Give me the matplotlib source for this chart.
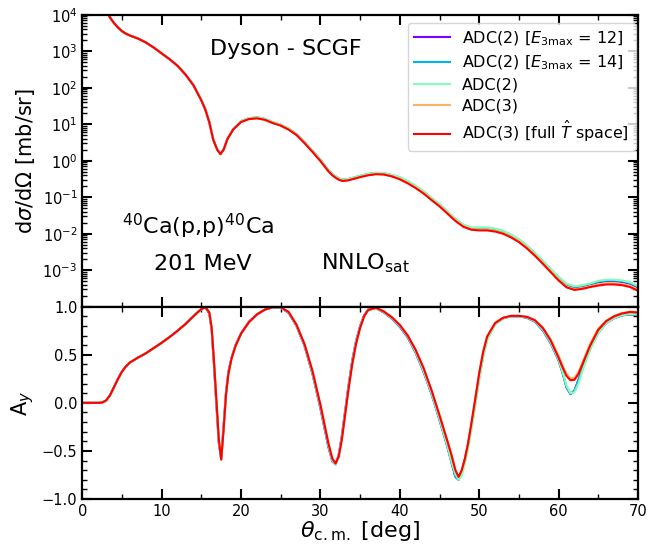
import matplotlib
matplotlib.use("Agg")
import matplotlib.pyplot as plt
import numpy as np

# ---- cross section data, log10(dsigma/dOmega) [mb/sr] ----
theta_xs = [2.5, 3, 3.5, 4, 4.5, 5, 5.5, 6, 7, 8, 9, 10, 11, 12, 13, 14, 15, 15.5, 16, 16.5,
            17, 17.4, 17.8, 18.3, 19, 20, 21, 22, 23, 24, 25, 26, 27, 28, 29, 30, 31, 31.5, 32, 32.4, 32.8, 33.5,
            34, 35, 36, 37, 38, 39, 40, 41, 42, 43, 44, 45, 46, 47, 48, 49, 50, 51, 52, 53,
            54, 55, 56, 57, 58, 59, 60, 61, 62, 63, 64, 65, 66, 67, 68, 69, 70]

xs_adc2_e12 = [4.5, 4.12, 3.92, 3.77, 3.65, 3.55, 3.48, 3.43, 3.35, 3.24, 3.10, 2.94, 2.78, 2.60, 2.36, 2.07, 1.66, 1.41, 1.06, 0.58,
               0.31, 0.19, 0.31, 0.61, 0.86, 1.08, 1.16, 1.18, 1.14, 1.05, 0.98, 0.87, 0.72, 0.50, 0.27, 0.02, -0.26, -0.37, -0.45, -0.50, -0.525, -0.51,
               -0.48, -0.42, -0.37, -0.34, -0.35, -0.40, -0.465, -0.575, -0.705, -0.855, -1.035, -1.205, -1.405, -1.605, -1.765, -1.845, -1.85, -1.85, -1.88, -1.94,
               -2.04, -2.17, -2.34, -2.54, -2.76, -2.99, -3.205, -3.395, -3.465, -3.435, -3.385, -3.33, -3.30, -3.30, -3.32, -3.37, -3.47]

xs_adc2_e14 = [4.5, 4.12, 3.92, 3.77, 3.65, 3.55, 3.48, 3.43, 3.35, 3.24, 3.10, 2.94, 2.78, 2.60, 2.36, 2.07, 1.66, 1.41, 1.06, 0.58,
               0.31, 0.19, 0.31, 0.61, 0.86, 1.085, 1.165, 1.185, 1.145, 1.055, 0.985, 0.875, 0.725, 0.505, 0.275, 0.025, -0.255, -0.365, -0.445, -0.495, -0.52, -0.505,
               -0.475, -0.415, -0.365, -0.335, -0.345, -0.395, -0.46, -0.57, -0.70, -0.85, -1.03, -1.20, -1.40, -1.60, -1.76, -1.84, -1.84, -1.84, -1.87, -1.93,
               -2.03, -2.16, -2.33, -2.53, -2.75, -2.98, -3.195, -3.385, -3.455, -3.425, -3.375, -3.31, -3.28, -3.28, -3.30, -3.35, -3.45]

xs_adc2 = [4.5, 4.12, 3.92, 3.77, 3.65, 3.55, 3.48, 3.43, 3.35, 3.24, 3.10, 2.94, 2.78, 2.60, 2.36, 2.07, 1.66, 1.41, 1.06, 0.58,
           0.31, 0.19, 0.31, 0.61, 0.86, 1.09, 1.17, 1.19, 1.15, 1.06, 0.99, 0.88, 0.73, 0.51, 0.28, 0.03, -0.25, -0.36, -0.44, -0.49, -0.515, -0.50,
           -0.47, -0.41, -0.36, -0.33, -0.34, -0.39, -0.45, -0.56, -0.69, -0.84, -1.02, -1.19, -1.39, -1.59, -1.75, -1.83, -1.83, -1.83, -1.86, -1.92,
           -2.02, -2.15, -2.32, -2.52, -2.74, -2.97, -3.18, -3.37, -3.44, -3.41, -3.36, -3.29, -3.26, -3.26, -3.28, -3.33, -3.43]

xs_adc3 = [4.5, 4.12, 3.92, 3.77, 3.65, 3.55, 3.48, 3.43, 3.35, 3.24, 3.10, 2.94, 2.78, 2.60, 2.36, 2.07, 1.65, 1.40, 1.05, 0.57,
           0.30, 0.18, 0.30, 0.60, 0.85, 1.07, 1.15, 1.17, 1.13, 1.04, 0.97, 0.86, 0.71, 0.49, 0.25, 0.00, -0.28, -0.39, -0.47, -0.52, -0.545, -0.53,
           -0.50, -0.44, -0.39, -0.36, -0.37, -0.42, -0.495, -0.605, -0.735, -0.885, -1.065, -1.235, -1.435, -1.635, -1.795, -1.875, -1.89, -1.89, -1.92, -1.98,
           -2.08, -2.21, -2.38, -2.58, -2.80, -3.03, -3.26, -3.45, -3.52, -3.49, -3.44, -3.39, -3.36, -3.36, -3.38, -3.43, -3.53]

xs_adc3_full = [4.5, 4.12, 3.92, 3.77, 3.65, 3.55, 3.48, 3.43, 3.35, 3.24, 3.10, 2.94, 2.78, 2.60, 2.36, 2.07, 1.65, 1.40, 1.05, 0.57,
                0.30, 0.18, 0.30, 0.60, 0.85, 1.06, 1.14, 1.16, 1.12, 1.03, 0.96, 0.85, 0.70, 0.48, 0.24, -0.01, -0.29, -0.40, -0.48, -0.53, -0.555, -0.54,
                -0.51, -0.45, -0.40, -0.37, -0.38, -0.43, -0.51, -0.62, -0.75, -0.90, -1.08, -1.25, -1.45, -1.65, -1.81, -1.89, -1.91, -1.91, -1.94, -2.00,
                -2.10, -2.23, -2.40, -2.60, -2.82, -3.05, -3.28, -3.47, -3.54, -3.51, -3.46, -3.42, -3.39, -3.39, -3.41, -3.46, -3.56]

# ---- analyzing power A_y ----
theta_ay = [0, 1, 2, 2.5, 3, 3.5, 4, 4.5, 5, 5.5, 6, 7, 8, 9, 10, 11, 12, 13, 14, 14.5,
            15, 15.5, 16, 16.3, 16.6, 16.9, 17.2, 17.5, 17.8, 18.1, 18.4, 18.8, 19.3, 20, 21, 22, 23, 24, 25, 26,
            27, 28, 29, 30, 30.5, 31, 31.5, 31.9, 32.3, 32.7, 33.1, 33.5, 34, 34.5, 35, 35.5, 36, 37, 38, 39,
            40, 41, 42, 43, 44, 45, 46, 46.5, 47, 47.4, 47.8, 48.2, 48.6, 49, 49.5, 50, 50.5, 51, 52, 53,
            54, 55, 56, 57, 58, 59, 60, 60.5, 61, 61.5, 62, 62.5, 63, 63.5, 64, 65, 66, 67, 68, 69, 70]

ay_adc2_e12 = [0.0, 0.0, 0.0, 0.003, 0.025, 0.08, 0.165, 0.25, 0.325, 0.38, 0.42, 0.47, 0.515, 0.57, 0.625, 0.685, 0.75, 0.82, 0.90, 0.94,
               0.975, 0.995, 0.93, 0.76, 0.38, -0.03, -0.42, -0.58, -0.24, 0.11, 0.32, 0.47, 0.60, 0.725, 0.845, 0.92, 0.97, 0.995, 0.99, 0.935,
               0.795, 0.59, 0.30, -0.06, -0.26, -0.46, -0.61, -0.64, -0.54, -0.34, -0.09, 0.16, 0.44, 0.65, 0.80, 0.91, 0.97, 0.985, 0.94, 0.875,
               0.79, 0.68, 0.52, 0.32, 0.09, -0.18, -0.46, -0.62, -0.77, -0.80, -0.72, -0.58, -0.43, -0.24, 0.0, 0.27, 0.50, 0.67, 0.82, 0.88,
               0.90, 0.90, 0.885, 0.845, 0.755, 0.62, 0.44, 0.31, 0.16, 0.09, 0.13, 0.24, 0.36, 0.47, 0.57, 0.73, 0.83, 0.88, 0.91, 0.92, 0.915]

ay_adc2_e14 = [0.0, 0.0, 0.0, 0.003, 0.025, 0.08, 0.165, 0.25, 0.325, 0.38, 0.42, 0.47, 0.515, 0.57, 0.625, 0.685, 0.75, 0.82, 0.90, 0.94,
               0.975, 0.995, 0.935, 0.765, 0.39, -0.02, -0.41, -0.585, -0.25, 0.10, 0.315, 0.465, 0.595, 0.72, 0.84, 0.92, 0.97, 0.995, 0.99, 0.937,
               0.80, 0.595, 0.305, -0.05, -0.25, -0.45, -0.605, -0.64, -0.55, -0.35, -0.10, 0.15, 0.43, 0.645, 0.795, 0.905, 0.968, 0.985, 0.942, 0.878,
               0.795, 0.685, 0.525, 0.325, 0.095, -0.175, -0.455, -0.615, -0.765, -0.80, -0.73, -0.595, -0.44, -0.255, -0.01, 0.26, 0.49, 0.665, 0.82, 0.88,
               0.90, 0.90, 0.887, 0.848, 0.76, 0.625, 0.445, 0.315, 0.165, 0.092, 0.125, 0.235, 0.355, 0.465, 0.57, 0.73, 0.832, 0.882, 0.912, 0.923, 0.918]

ay_adc2 = [0.0, 0.0, 0.0, 0.003, 0.025, 0.08, 0.165, 0.25, 0.325, 0.38, 0.42, 0.47, 0.515, 0.57, 0.625, 0.685, 0.75, 0.82, 0.90, 0.94,
           0.975, 0.995, 0.935, 0.77, 0.40, -0.01, -0.40, -0.59, -0.26, 0.09, 0.31, 0.46, 0.59, 0.72, 0.84, 0.92, 0.97, 0.995, 0.99, 0.94,
           0.80, 0.60, 0.31, -0.04, -0.24, -0.44, -0.60, -0.645, -0.56, -0.36, -0.11, 0.14, 0.42, 0.64, 0.79, 0.90, 0.965, 0.985, 0.945, 0.88,
           0.80, 0.69, 0.53, 0.33, 0.10, -0.17, -0.45, -0.61, -0.74, -0.80, -0.76, -0.63, -0.48, -0.29, -0.04, 0.24, 0.47, 0.65, 0.815, 0.878,
           0.90, 0.90, 0.89, 0.85, 0.765, 0.63, 0.45, 0.32, 0.18, 0.10, 0.11, 0.20, 0.33, 0.45, 0.56, 0.725, 0.83, 0.882, 0.912, 0.925, 0.92]

ay_adc3 = [0.0, 0.0, 0.0, 0.003, 0.025, 0.08, 0.165, 0.25, 0.325, 0.38, 0.42, 0.47, 0.515, 0.57, 0.625, 0.685, 0.75, 0.82, 0.90, 0.94,
           0.975, 0.995, 0.94, 0.78, 0.42, 0.02, -0.38, -0.59, -0.28, 0.08, 0.30, 0.46, 0.59, 0.72, 0.84, 0.92, 0.97, 0.995, 0.995, 0.945,
           0.81, 0.61, 0.33, -0.02, -0.22, -0.42, -0.58, -0.63, -0.56, -0.38, -0.13, 0.12, 0.40, 0.62, 0.78, 0.90, 0.965, 0.99, 0.95, 0.89,
           0.81, 0.70, 0.55, 0.36, 0.13, -0.13, -0.40, -0.54, -0.70, -0.77, -0.70, -0.58, -0.42, -0.22, 0.04, 0.31, 0.53, 0.69, 0.83, 0.885,
           0.905, 0.905, 0.895, 0.862, 0.785, 0.66, 0.49, 0.39, 0.30, 0.255, 0.26, 0.32, 0.42, 0.52, 0.62, 0.775, 0.855, 0.905, 0.935, 0.95, 0.945]

ay_adc3_full = [0.0, 0.0, 0.0, 0.003, 0.025, 0.08, 0.165, 0.25, 0.325, 0.38, 0.42, 0.47, 0.515, 0.57, 0.625, 0.685, 0.75, 0.82, 0.90, 0.94,
                0.975, 0.995, 0.94, 0.78, 0.42, 0.02, -0.38, -0.59, -0.28, 0.08, 0.30, 0.46, 0.59, 0.72, 0.84, 0.92, 0.97, 0.995, 0.995, 0.945,
                0.81, 0.61, 0.33, -0.02, -0.22, -0.42, -0.58, -0.63, -0.56, -0.38, -0.13, 0.12, 0.40, 0.62, 0.78, 0.90, 0.965, 0.99, 0.95, 0.89,
                0.81, 0.70, 0.55, 0.36, 0.13, -0.13, -0.40, -0.54, -0.70, -0.77, -0.70, -0.58, -0.42, -0.22, 0.04, 0.31, 0.53, 0.69, 0.83, 0.885,
                0.905, 0.905, 0.895, 0.86, 0.78, 0.65, 0.47, 0.37, 0.28, 0.235, 0.24, 0.30, 0.40, 0.50, 0.60, 0.76, 0.85, 0.90, 0.93, 0.945, 0.94]

labels = [r"ADC(2) [$E_{3\mathrm{max}}$ = 12]",
          r"ADC(2) [$E_{3\mathrm{max}}$ = 14]",
          "ADC(2)",
          "ADC(3)",
          r"ADC(3) [full $\hat{T}$ space]"]
xs_all = [xs_adc2_e12, xs_adc2_e14, xs_adc2, xs_adc3, xs_adc3_full]
ay_all = [ay_adc2_e12, ay_adc2_e14, ay_adc2, ay_adc3, ay_adc3_full]
colors = plt.cm.rainbow(np.linspace(0, 1, 5))

fig = plt.figure(figsize=(6.5, 5.45), dpi=100)
ax1 = fig.add_axes([0.1266, 0.4372, 0.8549, 0.5358])
ax2 = fig.add_axes([0.1266, 0.0844, 0.8549, 0.3528], sharex=ax1)

for lab, xs, ay, c in zip(labels, xs_all, ay_all, colors):
    ax1.plot(theta_xs, 10.0 ** np.array(xs), color=c, lw=1.5, label=lab)
    ax2.plot(theta_ay, ay, color=c, lw=1.5)

ax1.set_yscale("log")
ax1.set_ylim(1e-4, 1e4)
ax1.set_yticks([1e-3, 1e-2, 1e-1, 1e0, 1e1, 1e2, 1e3, 1e4])
ax1.yaxis.set_minor_locator(matplotlib.ticker.LogLocator(base=10, subs=np.arange(2, 10), numticks=20))
ax1.yaxis.set_minor_formatter(matplotlib.ticker.NullFormatter())
ax1.set_xlim(0, 70)
ax1.set_ylabel(r"d$\sigma$/d$\Omega$ [mb/sr]", fontsize=15)
plt.setp(ax1.get_xticklabels(), visible=False)

ax2.set_ylim(-1.0, 1.0)
ax2.set_yticks([-1.0, -0.5, 0.0, 0.5, 1.0])
ax2.yaxis.set_minor_locator(matplotlib.ticker.MultipleLocator(0.1))
ax2.set_xticks(np.arange(0, 71, 10))
ax2.xaxis.set_minor_locator(matplotlib.ticker.MultipleLocator(5))
ax2.set_ylabel(r"A$_y$", fontsize=15)
ax2.set_xlabel(r"$\theta_{\rm c.m.}$ [deg]", fontsize=16, labelpad=0)

for ax in (ax1, ax2):
    ax.tick_params(which="both", direction="in", top=True, right=True, labelsize=10.5)
    ax.tick_params(which="major", length=7, width=1.5)
    ax.tick_params(which="minor", length=3.5, width=1)
    for sp in ax.spines.values():
        sp.set_linewidth(1.6)

ax1.text(0.366, 0.884, "Dyson - SCGF", transform=ax1.transAxes, fontsize=16, ha="center", va="center")
ax1.text(0.208, 0.276, r"$^{40}$Ca(p,p)$^{40}$Ca", transform=ax1.transAxes, fontsize=16, ha="center", va="center")
ax1.text(0.217, 0.148, "201 MeV", transform=ax1.transAxes, fontsize=16, ha="center", va="center")
ax1.text(0.51, 0.148, r"NNLO$_{\rm sat}$", transform=ax1.transAxes, fontsize=16, ha="center", va="center")

ax1.legend(loc="upper right", fontsize=11.5, frameon=True, handlelength=2.2, labelspacing=0.36,
           bbox_to_anchor=(1.0, 0.98), borderaxespad=0.15)

fig.savefig("out.png", dpi=100)
